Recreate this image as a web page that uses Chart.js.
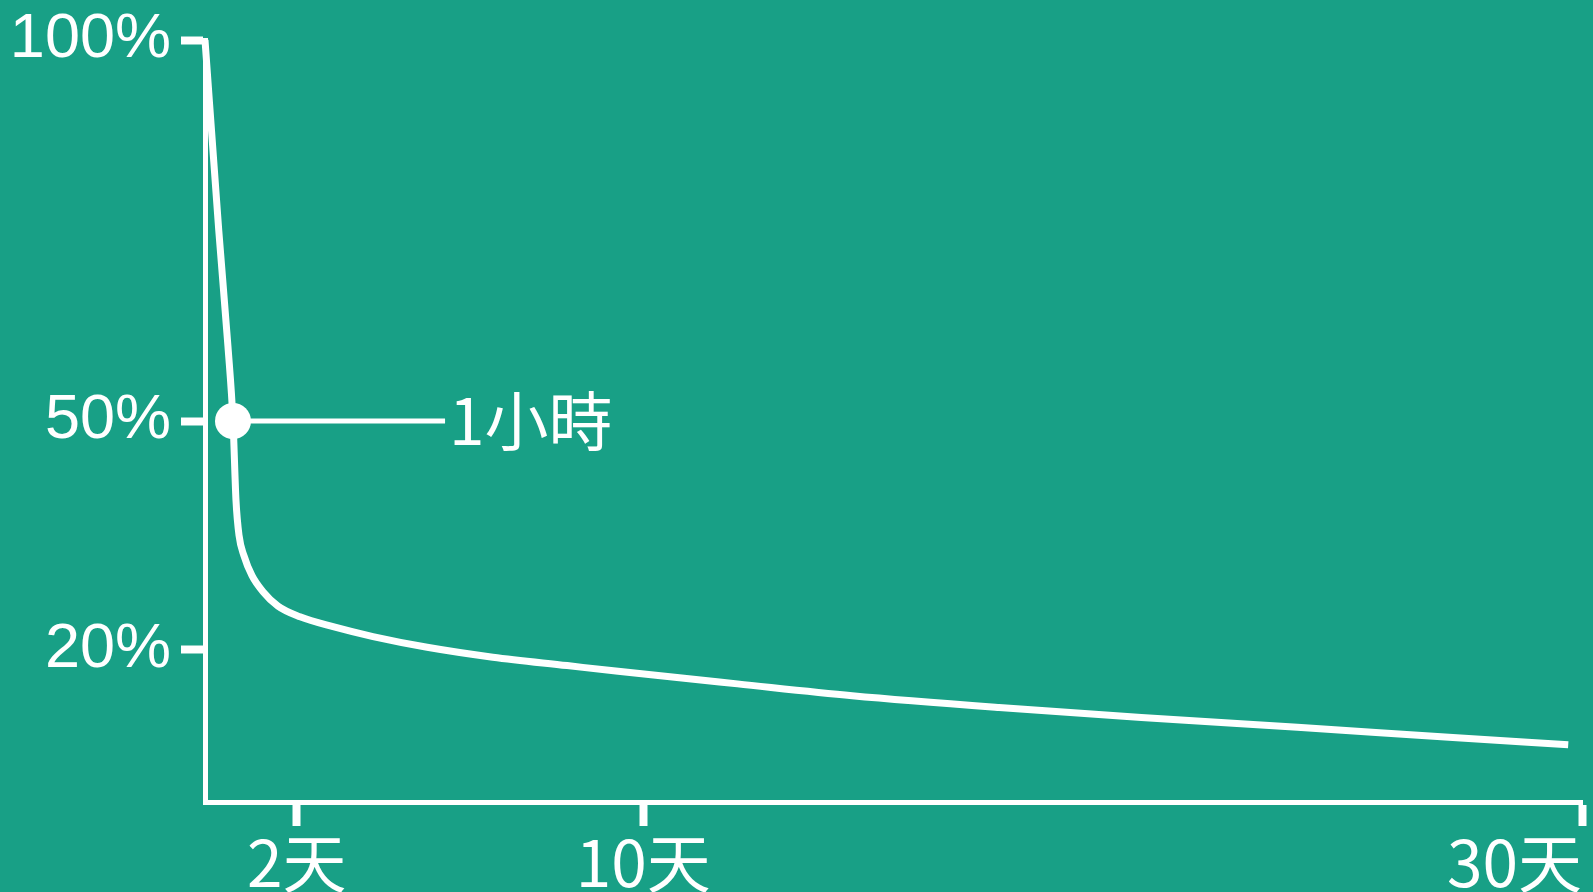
<!DOCTYPE html>
<html>
<head>
<meta charset="utf-8">
<script src="https://cdn.jsdelivr.net/npm/chart.js@4/dist/chart.umd.min.js"></script>
<style>
    html, body { margin: 0; padding: 0; background: #18a086; }
    #wrap { width: 1593px; height: 892px; }
</style>
</head>
<body>
<div id="wrap"><canvas id="retentionChart"></canvas></div>
<script>
// curve (x in day units of the drawn axis, y in %)
const dias      = [0, 0.3, 0.5, 0.61, 0.675, 0.741, 0.85, 1.024, 1.264, 1.59, 2.07, 2.79, 3.66, 4.84, 6.27, 7.89, 9.0, 11.6, 14.1, 17.3, 20.4, 23.8, 27.1, 29.7]
const retencion = [100, 75, 59.8, 50, 39.6, 35.0, 32.3, 29.7, 27.6, 25.7, 24.3, 23.0, 21.7, 20.3, 19.0, 17.9, 17.15, 15.5, 13.95, 12.4, 11.1, 9.8, 8.5, 7.5]

const yTicks       = [20, 50, 100]
const xTicks       = [0, 2, 9.55, 30]
const xTickLabels  = ['', '2天', '10天', '30天']

// marker: "1小時"
const marcaX     = [0.61, 5.23]
const marcaY     = [50, 50]
const marcaTexto = '1小時'

const blanco = '#ffffff'
const cjk    = "'Noto Sans CJK TC', sans-serif"

const textoMarca = {
    id: 'textoMarca',
    afterDatasetsDraw(chart) {
        const {ctx, scales: {x, y}} = chart
        ctx.save()
        ctx.fillStyle = blanco
        ctx.font = '64px ' + cjk
        ctx.textAlign = 'left'
        ctx.textBaseline = 'middle'
        ctx.fillText(marcaTexto, x.getPixelForValue(marcaX[1]) + 4, y.getPixelForValue(marcaY[1]))
        ctx.restore()
    }
}

new Chart(document.getElementById('retentionChart'), {
    type: 'line',
    data: {
        datasets: [
            {
                data: dias.map((d, i) => ({x: d, y: retencion[i]})),
                borderColor: blanco,
                borderWidth: 7,
                pointRadius: 0,
                cubicInterpolationMode: 'monotone',
                borderCapStyle: 'butt',
                clip: false,
            },
            {
                data: marcaX.map((d, i) => ({x: d, y: marcaY[i]})),
                borderColor: blanco,
                borderWidth: 5,
                pointRadius: [18, 0],
                pointBackgroundColor: blanco,
                pointBorderWidth: 0,
                clip: false,
            }
        ]
    },
    options: {
        responsive: true,
        maintainAspectRatio: false,
        animation: false,
        layout: { autoPadding: false, padding: { top: 40, right: 11, bottom: 0, left: 0 } },
        plugins: { legend: { display: false }, tooltip: { enabled: false } },
        scales: {
            x: {
                type: 'linear',
                min: 0,
                max: 30,
                afterBuildTicks: s => { s.ticks = xTicks.map(v => ({value: v})) },
                afterFit: s => { s.height = 90; s.paddingLeft = 0; s.paddingRight = 0 },
                border: { display: true, color: blanco, width: 5 },
                grid: {
                    drawOnChartArea: false,
                    tickLength: 24,
                    tickWidth: 8,
                    tickColor: c => c.tick && c.tick.value === 0 ? 'rgba(0,0,0,0)' : blanco,
                },
                ticks: {
                    autoSkip: false,
                    maxRotation: 0,
                    align: 'inner',
                    padding: 5,
                    color: blanco,
                    font: { family: cjk, size: 64, lineHeight: 1 },
                    callback: (v, i) => xTickLabels[i],
                }
            },
            y: {
                min: 0,
                max: 100,
                afterBuildTicks: s => { s.ticks = yTicks.map(v => ({value: v})) },
                afterFit: s => { s.width = 205; s.paddingTop = 0; s.paddingBottom = 0 },
                border: { display: true, color: blanco, width: 5 },
                grid: {
                    drawOnChartArea: false,
                    tickLength: 24,
                    tickWidth: 8,
                    tickColor: blanco,
                },
                ticks: {
                    padding: 10,
                    color: blanco,
                    font: { family: "'Liberation Sans', Arial, sans-serif", size: 63 },
                    callback: v => v + '%',
                }
            }
        }
    },
    plugins: [textoMarca]
})
</script>
</body>
</html>
